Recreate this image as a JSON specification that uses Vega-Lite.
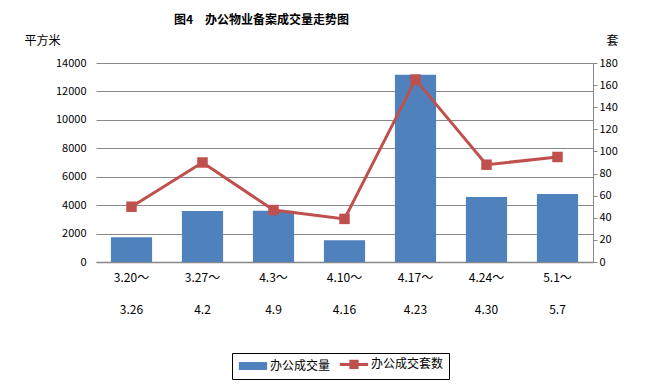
{
  "$schema": "https://vega.github.io/schema/vega-lite/v6.json",
  "width": 497,
  "height": 199,
  "autosize": {"type": "none"},
  "padding": {"left": 96, "top": 63, "right": 59, "bottom": 125},
  "background": "white",
  "title": {
    "text": "图4　办公物业备案成交量走势图",
    "fontSize": 12,
    "fontWeight": "bold",
    "font": "Noto Sans CJK SC",
    "color": "black",
    "anchor": "middle",
    "frame": "group",
    "dx": -83,
    "dy": -3
  },
  "config": {
    "font": "Noto Sans CJK SC",
    "view": {"stroke": null},
    "axis": {"labelFont": "Noto Sans CJK SC", "labelColor": "black", "titleFont": "Noto Sans CJK SC", "titleColor": "black", "titleFontWeight": "normal"}
  },
  "data": {
    "values": [
      {"period": "3.20～3.26", "area": 1750, "units": 50},
      {"period": "3.27～4.2", "area": 3580, "units": 90},
      {"period": "4.3～4.9", "area": 3600, "units": 47},
      {"period": "4.10～4.16", "area": 1530, "units": 39},
      {"period": "4.17～4.23", "area": 13180, "units": 165},
      {"period": "4.24～4.30", "area": 4570, "units": 88},
      {"period": "5.1～5.7", "area": 4780, "units": 95}
    ]
  },
  "encoding": {
    "x": {
      "field": "period",
      "type": "nominal",
      "sort": null,
      "scale": {"paddingInner": 0.42, "paddingOuter": 0.21},
      "axis": {
        "title": null,
        "labelAngle": 0,
        "labelFontSize": 12,
        "labelExpr": "[split(datum.label, '～')[0] + '～', split(datum.label, '～')[1]]",
        "labelLineHeight": 32,
        "labelPadding": 10,
        "ticks": false,
        "domainColor": "#888888",
        "domainWidth": 1.5
      }
    }
  },
  "layer": [
    {
      "mark": {"type": "bar"},
      "encoding": {
        "y": {
          "field": "area",
          "type": "quantitative",
          "scale": {"domain": [0, 14000]},
          "axis": {
            "values": [0, 2000, 4000, 6000, 8000, 10000, 12000, 14000],
            "format": "d",
            "title": "平方米",
            "titleAngle": 0,
            "titleX": -54,
            "titleY": -23,
            "titleAlign": "center",
            "titleBaseline": "middle",
            "titleFontSize": 12,
            "labelFontSize": 11,
            "labelPadding": 10,
            "ticks": false,
            "domain": false,
            "gridColor": "#888888",
            "gridWidth": 1.2
          }
        },
        "color": {
          "datum": "办公成交量",
          "type": "nominal",
          "scale": {"domain": ["办公成交量", "办公成交套数"], "range": ["#4F81BD", "#C0504D"]},
          "legend": {
            "title": null,
            "orient": "none",
            "legendX": 136,
            "legendY": 290,
            "direction": "horizontal",
            "strokeColor": "black",
            "padding": 5,
            "labelFontSize": 12,
            "labelColor": "black",
            "symbolSize": 800,
            "symbolOffset": 10,
            "columnPadding": 2,
            "labelOffset": 11,
            "encode": {
              "symbols": {
                "update": {
                  "shape": {"signal": "datum.value == '办公成交量' ? 'M-1,-0.28H1V0.28H-1Z' : 'M-1,0H1M-0.22,-0.22H0.22V0.22H-0.22Z'"},
                  "fill": {"signal": "datum.value == '办公成交量' ? '#4F81BD' : '#C0504D'"},
                  "stroke": {"signal": "datum.value == '办公成交量' ? '#4F81BD' : '#C0504D'"},
                  "strokeWidth": {"signal": "datum.value == '办公成交量' ? 0 : 3"},
                  "opacity": {"value": 1}
                }
              }
            }
          }
        }
      }
    },
    {
      "layer": [
        {"mark": {"type": "line", "strokeWidth": 3, "color": "#C0504D"}, "encoding": {}},
        {"mark": {"type": "point", "shape": "square", "filled": true, "size": 110, "opacity": 1, "color": "#C0504D"}, "encoding": {}}
      ],
      "encoding": {
        "y": {
          "field": "units",
          "type": "quantitative",
          "scale": {"domain": [0, 180]},
          "axis": {
            "orient": "right",
            "values": [0, 20, 40, 60, 80, 100, 120, 140, 160, 180],
            "title": "套",
            "titleAngle": 0,
            "titleX": 19,
            "titleY": -23,
            "titleAlign": "center",
            "titleBaseline": "middle",
            "titleFontSize": 12,
            "labelFontSize": 11,
            "labelPadding": 2,
            "tickSize": 4,
            "tickColor": "#888888",
            "domainColor": "#888888",
            "grid": false
          }
        },
        "color": {"datum": "办公成交套数", "type": "nominal"}
      }
    }
  ],
  "resolve": {"scale": {"y": "independent"}}
}
